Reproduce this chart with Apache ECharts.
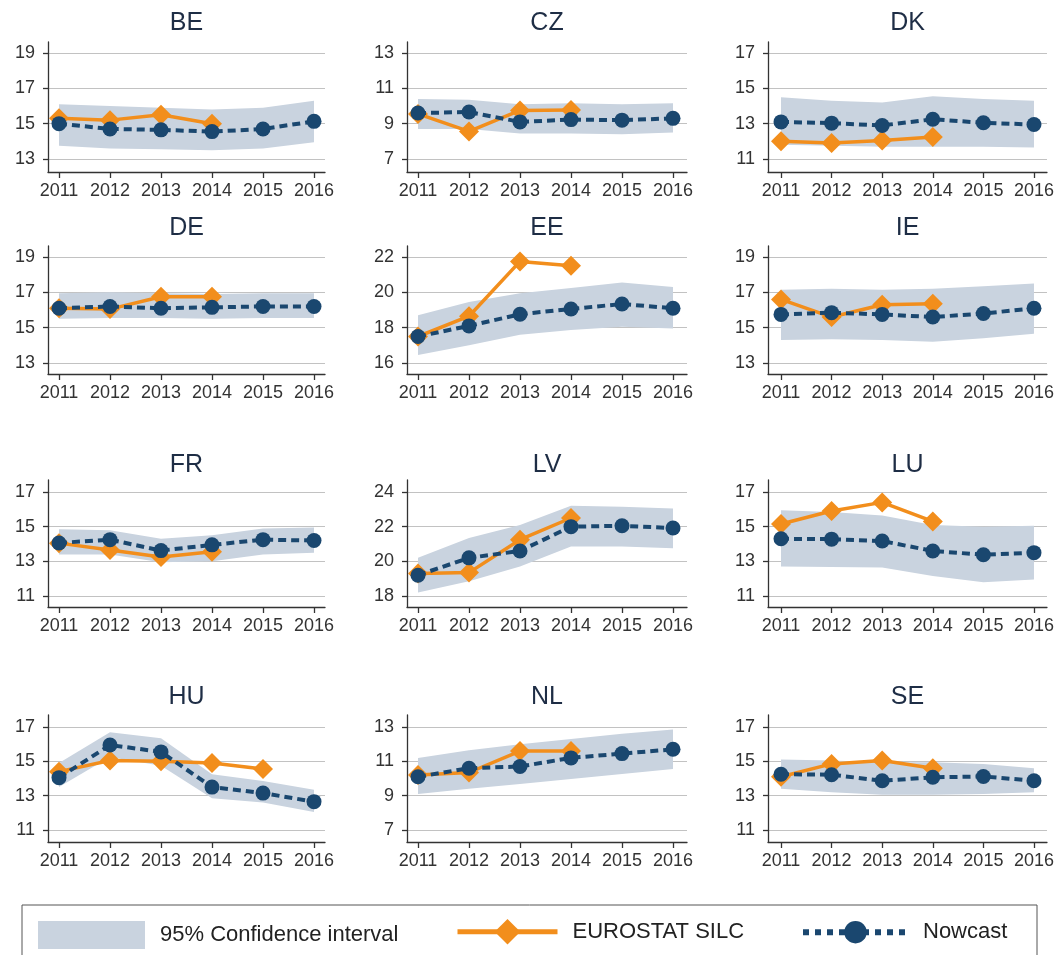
<!DOCTYPE html>
<html>
<head>
<meta charset="utf-8">
<script src="https://cdn.jsdelivr.net/npm/echarts@6/dist/echarts.min.js"></script>
<style>
  html, body { margin: 0; padding: 0; background: #fff; }
  #chart { width: 1057px; height: 955px; }
</style>
</head>
<body>
<div id="chart"></div>
<script>
// Panel order: left to right, top to bottom
const countries = ['BE', 'CZ', 'DK', 'DE', 'EE', 'IE', 'FR', 'LV', 'LU', 'HU', 'NL', 'SE'];
const years = [2011, 2012, 2013, 2014, 2015, 2016];

// Lowest labelled tick on each panel's value axis (ticks every 2 units, four labels)
const yTickStart = [13, 7, 11, 13, 16, 13, 11, 18, 11, 11, 7, 11];

// Nowcast estimates, 2011-2016
const nowcast = [
  [15.0, 14.7, 14.65, 14.55, 14.7, 15.13],
  [9.6, 9.66, 9.1, 9.23, 9.2, 9.3],
  [13.1, 13.03, 12.9, 13.25, 13.05, 12.95],
  [16.1, 16.2, 16.1, 16.15, 16.2, 16.2],
  [17.5, 18.1, 18.76, 19.06, 19.34, 19.1],
  [15.75, 15.85, 15.75, 15.6, 15.8, 16.1],
  [14.06, 14.25, 13.62, 13.95, 14.25, 14.2],
  [19.2, 20.2, 20.6, 22.0, 22.05, 21.92],
  [14.3, 14.28, 14.17, 13.6, 13.38, 13.5],
  [14.05, 15.95, 15.55, 13.5, 13.15, 12.65],
  [10.1, 10.6, 10.7, 11.2, 11.45, 11.7],
  [14.25, 14.22, 13.87, 14.07, 14.12, 13.87]
];

// EUROSTAT SILC observations (from 2011 onwards)
const silc = [
  [15.3, 15.2, 15.5, 15.0],
  [9.55, 8.56, 9.75, 9.78],
  [12.0, 11.9, 12.05, 12.25],
  [16.1, 16.05, 16.75, 16.75],
  [17.5, 18.65, 21.75, 21.5],
  [16.6, 15.6, 16.3, 16.35],
  [14.05, 13.65, 13.25, 13.55],
  [19.3, 19.35, 21.25, 22.5],
  [15.15, 15.9, 16.4, 15.3],
  [14.4, 15.05, 15.0, 14.9, 14.55],
  [10.2, 10.35, 11.6, 11.6],
  [14.1, 14.85, 15.05, 14.6]
];

// 95% confidence interval bounds, 2011-2016
const ciLow = [
  [13.75, 13.6, 13.55, 13.5, 13.6, 13.95],
  [8.7, 8.7, 8.45, 8.45, 8.4, 8.5],
  [11.8, 11.75, 11.7, 11.7, 11.7, 11.65],
  [15.5, 15.55, 15.55, 15.5, 15.55, 15.55],
  [16.45, 17.0, 17.6, 17.87, 18.05, 17.95],
  [14.3, 14.35, 14.3, 14.2, 14.4, 14.65],
  [13.4, 13.4, 12.95, 13.0, 13.4, 13.5],
  [18.2, 18.85, 19.7, 20.85, 20.85, 20.75],
  [12.7, 12.68, 12.65, 12.15, 11.8, 11.95],
  [13.5, 15.25, 14.75, 12.85, 12.6, 12.05],
  [9.1, 9.4, 9.68, 9.97, 10.26, 10.55],
  [13.4, 13.2, 13.05, 13.05, 13.1, 13.2]
];
const ciHigh = [
  [16.1, 16.0, 15.9, 15.8, 15.9, 16.3],
  [10.4, 10.35, 10.1, 10.15, 10.1, 10.15],
  [14.5, 14.3, 14.2, 14.55, 14.4, 14.3],
  [16.95, 17.0, 16.95, 16.9, 16.95, 16.95],
  [18.7, 19.45, 19.95, 20.25, 20.55, 20.3],
  [17.15, 17.2, 17.15, 17.2, 17.35, 17.5],
  [14.85, 14.8, 14.3, 14.5, 14.9, 14.95],
  [20.2, 21.35, 22.1, 23.2, 23.15, 23.05],
  [15.95, 15.85, 15.65, 15.1, 15.0, 15.05],
  [14.9, 16.7, 16.35, 14.25, 13.85, 13.35],
  [11.2, 11.65, 12.0, 12.3, 12.6, 12.85],
  [15.1, 15.05, 14.95, 14.95, 14.85, 14.6]
];

const seriesNames = ['95% Confidence interval', 'EUROSTAT SILC', 'Nowcast'];

// ---- layout (pixels) ----
const rowLayout = {
  top:    [42, 246, 480, 715],
  hiTick: [53, 257, 492, 727],
  loTick: [159, 363, 596, 830],
  base:   [172, 374, 607, 842],
  title:  [23, 228, 465, 697]
};
const colLayout = {
  left:  [48, 407, 768],
  right: [325, 687, 1047],
  x2011: [59, 418, 781],
  x2016: [314, 673, 1034]
};

const COL_BAND = '#c9d3df';
const COL_SILC = '#f28e1c';
const COL_NOW = '#1a476f';
const COL_AXIS = '#333333';
const COL_GRID = '#c2c2c2';
const COL_TEXT = '#333333';
const FONT = '"Liberation Sans", Arial, sans-serif';

const grids = [], xAxes = [], yAxes = [], series = [], graphics = [];

countries.forEach((name, i) => {
  const r = Math.floor(i / 3), c = i % 3;
  const top = rowLayout.top[r], base = rowLayout.base[r];
  const left = colLayout.left[c], right = colLayout.right[c];

  const pxPerUnit = (rowLayout.loTick[r] - rowLayout.hiTick[r]) / 6;
  const lo = yTickStart[i];
  const yTicks = [lo, lo + 2, lo + 4, lo + 6];
  const yMin = lo - (base - rowLayout.loTick[r]) / pxPerUnit;
  const yMax = lo + 6 + (rowLayout.hiTick[r] - top) / pxPerUnit;

  const pxPerYear = (colLayout.x2016[c] - colLayout.x2011[c]) / 5;
  const xMin = 2011 - (colLayout.x2011[c] - left) / pxPerYear;
  const xMax = 2016 + (right - colLayout.x2016[c]) / pxPerYear;

  grids.push({ left: left, top: top, width: right - left, height: base - top, containLabel: false });

  xAxes.push({
    type: 'value', gridIndex: i, min: xMin, max: xMax,
    axisLine: { show: true, onZero: false, lineStyle: { color: COL_AXIS, width: 1.3 } },
    axisTick: { show: true, length: 6, customValues: years, lineStyle: { color: COL_AXIS, width: 1.3 } },
    axisLabel: { customValues: years, formatter: v => String(v), fontSize: 18, color: COL_TEXT, fontFamily: FONT, margin: 10 },
    splitLine: { show: false }
  });

  yAxes.push({
    type: 'value', gridIndex: i, min: yMin, max: yMax,
    axisLine: { show: true, onZero: false, lineStyle: { color: COL_AXIS, width: 1.3 } },
    axisTick: { show: true, length: 5, customValues: yTicks, lineStyle: { color: COL_AXIS, width: 1.3 } },
    axisLabel: { customValues: yTicks, fontSize: 18, color: COL_TEXT, fontFamily: FONT, margin: 13 },
    splitLine: { show: true, lineStyle: { color: COL_GRID, width: 1.2 } }
  });

  // confidence band as a filled polygon through the upper and lower bounds
  const hi = ciHigh[i], low = ciLow[i];
  series.push({
    name: seriesNames[0], type: 'custom', xAxisIndex: i, yAxisIndex: i,
    itemStyle: { color: COL_BAND },
    data: years.map((y, k) => [y, low[k], hi[k]]),
    encode: { x: 0, y: [1, 2] },
    silent: true,
    renderItem: (params, api) => {
      if (params.dataIndex !== 0) return null;
      const pts = [];
      years.forEach((y, k) => pts.push(api.coord([y, hi[k]])));
      for (let k = years.length - 1; k >= 0; k--) pts.push(api.coord([years[k], low[k]]));
      return { type: 'polygon', shape: { points: pts }, style: { fill: COL_BAND } };
    },
    z: 1
  });

  series.push({
    name: seriesNames[1], type: 'line', xAxisIndex: i, yAxisIndex: i,
    data: silc[i].map((v, k) => [years[k], v]),
    symbol: 'diamond', symbolSize: 20,
    lineStyle: { color: COL_SILC, width: 3.5 },
    itemStyle: { color: COL_SILC },
    silent: true, animation: false, z: 3
  });

  series.push({
    name: seriesNames[2], type: 'line', xAxisIndex: i, yAxisIndex: i,
    data: nowcast[i].map((v, k) => [years[k], v]),
    symbol: 'circle', symbolSize: 15,
    lineStyle: { color: COL_NOW, width: 4, type: [8, 5] },
    itemStyle: { color: COL_NOW },
    silent: true, animation: false, z: 4
  });

  graphics.push({
    type: 'text', x: (left + right) / 2, y: rowLayout.title[r],
    style: { text: name, textAlign: 'center', textVerticalAlign: 'middle', font: '25px ' + FONT, fill: '#1e2d45' }
  });
});

// legend frame
graphics.push({
  type: 'rect', shape: { x: 22, y: 905, width: 1015, height: 60 },
  style: { fill: 'none', stroke: '#555', lineWidth: 1 }, z: -1
});

const legendText = { fontSize: 22, color: '#222', fontFamily: FONT, padding: [0, 0, 0, 10] };

const option = {
  backgroundColor: '#ffffff',
  animation: false,
  grid: grids,
  xAxis: xAxes,
  yAxis: yAxes,
  series: series,
  graphic: graphics,
  legend: [
    {
      left: 38, top: 921, itemWidth: 107, itemHeight: 28, selectedMode: false, padding: 0, textStyle: legendText,
      data: [{ name: seriesNames[0], icon: 'rect' }]
    },
    {
      left: 455, top: 919, itemWidth: 100, itemHeight: 32, selectedMode: false, padding: 0, textStyle: legendText,
      data: [{ name: seriesNames[1], lineStyle: { width: 5 } }]
    },
    {
      left: 800, top: 921, itemWidth: 105, itemHeight: 28, selectedMode: false, padding: 0, textStyle: legendText,
      data: [{ name: seriesNames[2], lineStyle: { width: 6, type: [6, 6] } }]
    }
  ]
};

const chart = echarts.init(document.getElementById('chart'), null, { renderer: 'canvas' });
chart.setOption(option);
</script>
</body>
</html>
